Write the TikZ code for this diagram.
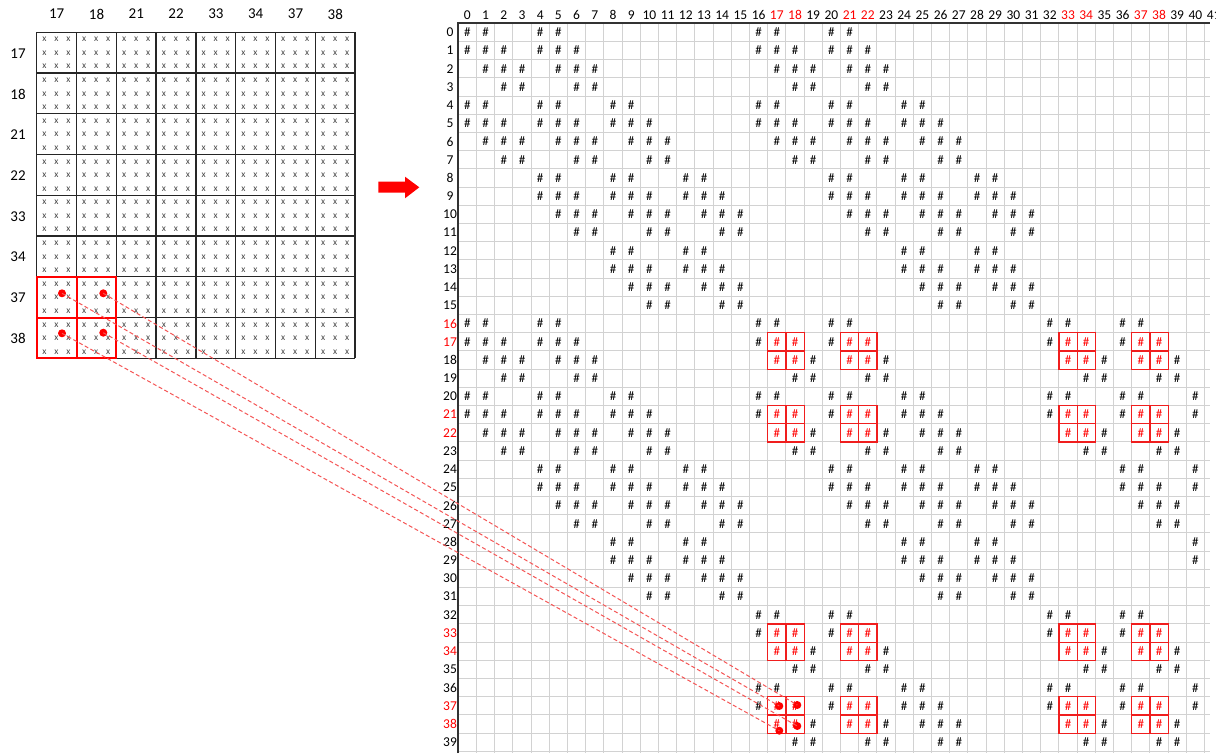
\documentclass[tikz,border=0pt]{standalone}
\usepackage{fontspec}
\setmainfont{Carlito}
\definecolor{gridgray}{RGB}{210,210,210}
\definecolor{dashred}{RGB}{245,85,85}
\definecolor{xgray}{RGB}{70,70,70}
\definecolor{boxred}{RGB}{240,30,30}
\begin{document}
\begin{tikzpicture}[x=1pt,y=-1pt,
  hash/.style={inner sep=0pt,font=\fontsize{13}{13}\selectfont},
  rlab/.style={inner sep=0pt,font=\fontsize{13.5}{13.5}\selectfont},
  llab/.style={inner sep=0pt,font=\fontsize{15}{15}\selectfont},
  xmark/.style={inner sep=0pt,text=xgray,font=\fontsize{9.5}{9.5}\selectfont},
  lgrid/.style={black!85,line width=1.3pt},
  rgrid/.style={gridgray,line width=1pt},
  redbox/.style={boxred,line width=1.2pt},
  redcell/.style={red,line width=2pt},
  dot/.style={circle,fill=red,draw=none,minimum size=8pt,inner sep=0pt},
  dashline/.style={dashred,line width=1pt,dash pattern=on 4pt off 2.5pt},
  border/.style={black!80,line width=2pt}]
\useasboundingbox (0,0) rectangle (1221,753);
\fill[white] (0,0) rectangle (1221,753);

% ---------------- left grid ----------------
\foreach \i in {0,...,8}{
  \draw[lgrid] ({36.7+\i*39.8},32.3) -- ({36.7+\i*39.8},358.3);
  \draw[lgrid] (36.7,{32.3+\i*40.75}) -- (355.1,{32.3+\i*40.75});
}
\foreach \lab [count=\k from 0] in {17,18,21,22,33,34,37,38}{
  \node[llab] (lc\lab) at ({36.7+\k*39.8+20},14) {\lab};
  \node[llab] (lr\lab) at (18,{32.3+\k*40.75+21}) {\lab};
}
\foreach \i in {0,...,7}{
  \foreach \j in {0,...,7}{
    \foreach \a [count=\ka] in {-12,0,12}{
      \foreach \b [count=\kb] in {-13.4,0,13.4}{
        \node[xmark] (x-\i-\j-\ka-\kb) at ({36.7+\i*39.8+19.8+\a},{32.3+\j*40.75+20.8+\b}) {x};
      }
    }
  }
}
\foreach \i/\j in {0/6,1/6,0/7,1/7}{
  \draw[redcell] ({36.7+\i*39.8},{32.3+\j*40.75}) rectangle ({36.7+(\i+1)*39.8},{32.3+(\j+1)*40.75});
}

% ---------------- arrow ----------------
\fill[red] (378.3,181.7) -- (405,181.7) -- (405,176.7) -- (419.3,187.3)
  -- (405,198.3) -- (405,192.7) -- (378.3,192.7) -- cycle;

% ---------------- right grid ----------------
\foreach \k in {0,...,41}{
  \draw[rgrid] ({458.3+\k*18.2},23.3) -- ({458.3+\k*18.2},753);
}
\foreach \k in {0,...,40}{
  \draw[rgrid] (458.3,{23.3+\k*18.2}) -- (1210,{23.3+\k*18.2});
}
\draw[border] (458.3,753) -- (458.3,23.3) -- (1210,23.3);

% column headers
\begin{scope}
\clip (440,0) rectangle (1215.5,22);
\foreach \cc in {0,...,41}{
  \pgfmathtruncatemacro\cred{and(and(\cc>15,mod(\cc,16)<8),and(mod(\cc,4)>0,mod(\cc,4)<3))}
  \ifnum\cred=1
    \node[rlab,text=red] (ch\cc) at ({458.3+(\cc+0.5)*18.2},15) {\cc};
  \else
    \node[rlab] (ch\cc) at ({458.3+(\cc+0.5)*18.2},15) {\cc};
  \fi
}
\end{scope}
% row headers
\foreach \rw in {0,...,39}{
  \pgfmathtruncatemacro\rred{or(or(or(\rw==16,\rw==17),or(\rw==21,\rw==22)),or(or(\rw==33,\rw==34),or(\rw==37,\rw==38)))}
  \ifnum\rred=1
    \node[rlab,text=red] (rh\rw) at (450,{23.3+(\rw+0.5)*18.2}) {\rw};
  \else
    \node[rlab] (rh\rw) at (450,{23.3+(\rw+0.5)*18.2}) {\rw};
  \fi
}

% red boxes
\foreach \rs in {17,21,33,37}{
  \foreach \cs in {17,21,33,37}{
    \draw[redbox] ({458.3+\cs*18.2},{23.3+\rs*18.2}) rectangle ({458.3+(\cs+2)*18.2},{23.3+(\rs+2)*18.2});
    \draw[redbox] ({458.3+(\cs+1)*18.2},{23.3+\rs*18.2}) -- ({458.3+(\cs+1)*18.2},{23.3+(\rs+2)*18.2});
    \draw[redbox] ({458.3+\cs*18.2},{23.3+(\rs+1)*18.2}) -- ({458.3+(\cs+2)*18.2},{23.3+(\rs+1)*18.2});
  }
}

% hash marks
\foreach \rw in {0,...,39}{
  \foreach \cc in {0,...,40}{
    \pgfmathtruncatemacro\ok{and(and(abs(mod(\rw,4)-mod(\cc,4))<2,abs(mod(floor(\rw/4),4)-mod(floor(\cc/4),4))<2),abs(floor(\rw/16)-floor(\cc/16))<2)}
    \ifnum\ok=1
      \pgfmathtruncatemacro\rr{and(and(\rw>15,mod(\rw,16)<8),and(mod(\rw,4)>0,mod(\rw,4)<3))}
      \pgfmathtruncatemacro\cr{and(and(\cc>15,mod(\cc,16)<8),and(mod(\cc,4)>0,mod(\cc,4)<3))}
      \pgfmathtruncatemacro\isred{and(\rr,\cr)}
      \ifnum\isred=1
        \node[hash,text=red] (h-\rw-\cc) at ({458.3+(\cc+0.5)*18.2},{23.3+(\rw+0.5)*18.2}) {\#};
      \else
        \node[hash] (h-\rw-\cc) at ({458.3+(\cc+0.5)*18.2},{23.3+(\rw+0.5)*18.2}) {\#};
      \fi
    \fi
  }
}

% ---------------- dots and dashed connectors ----------------
\node[dot] (dL1) at (62,293.3) {};
\node[dot] (dL2) at (103.3,293.3) {};
\node[dot] (dL3) at (62,333.3) {};
\node[dot] (dL4) at (103.3,332.7) {};
\node[dot] (dR1) at (779.3,706) {};
\node[dot] (dR2) at (797.3,705) {};
\node[dot] (dR3) at (779.3,730.7) {};
\node[dot] (dR4) at (797.3,726) {};
\draw[dashline] (dL1.center) -- (dR1.center);
\draw[dashline] (dL2.center) -- (dR2.center);
\draw[dashline] (dL3.center) -- (dR3.center);
\draw[dashline] (dL4.center) -- (dR4.center);
\end{tikzpicture}
\end{document}
